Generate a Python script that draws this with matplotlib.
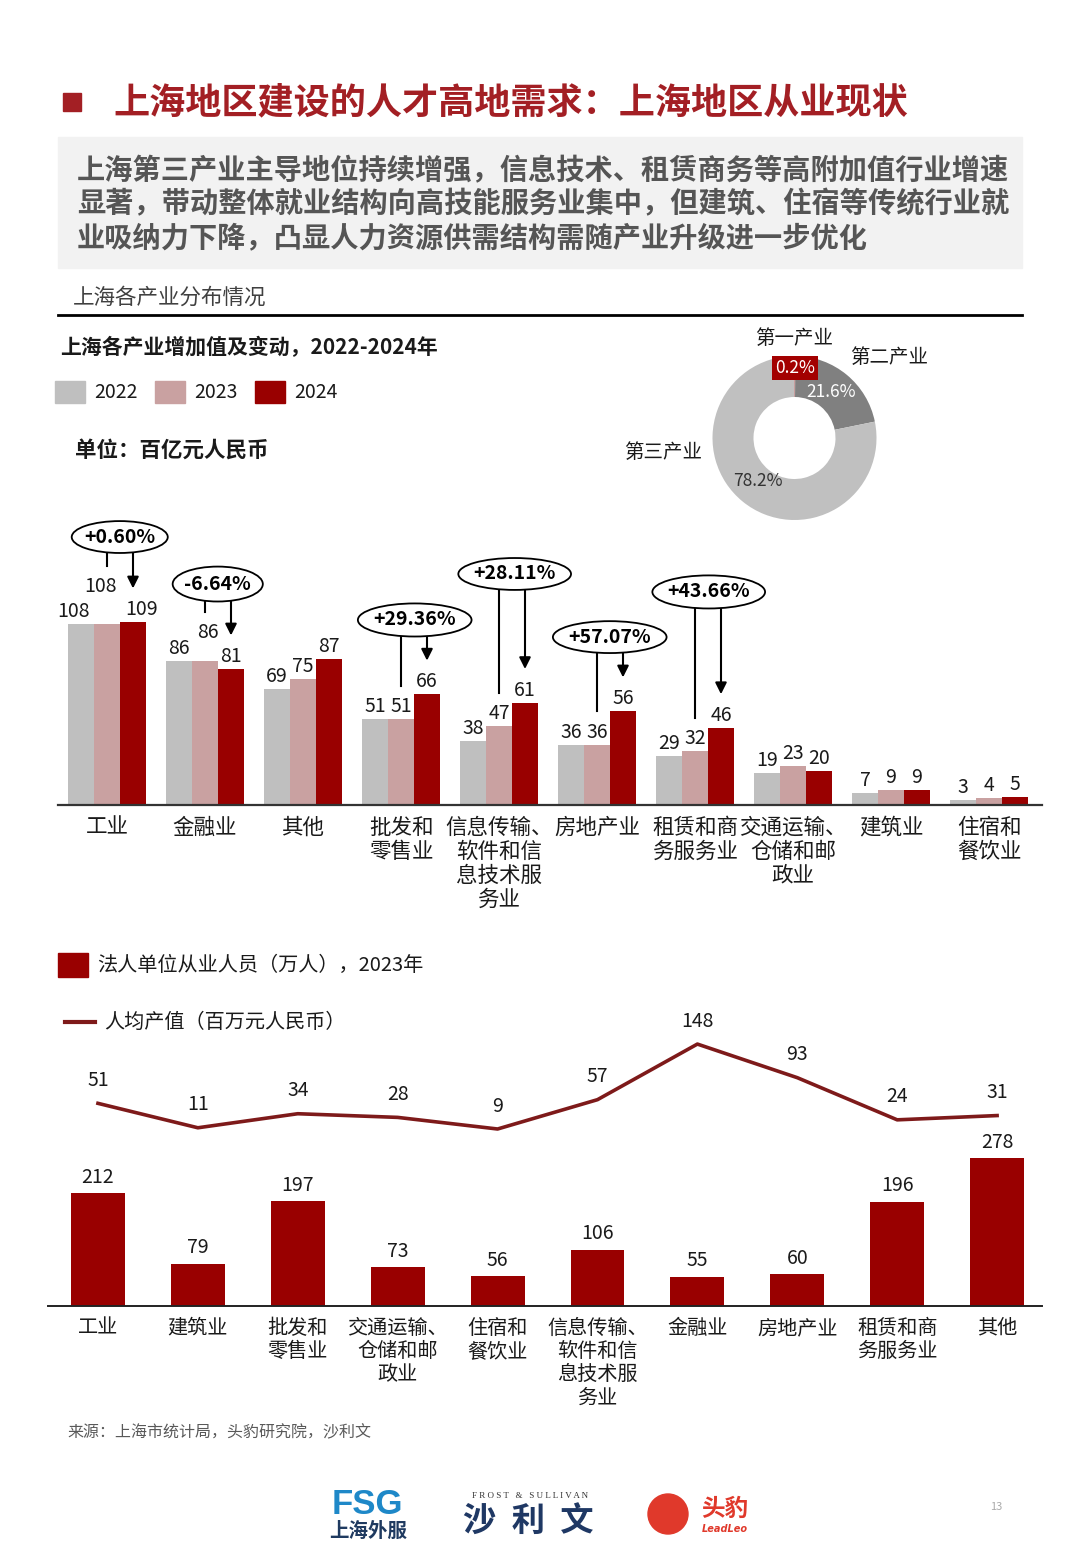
import numpy as np
import matplotlib
matplotlib.use('Agg')
import matplotlib.pyplot as plt
from matplotlib.patches import Ellipse, Rectangle, Circle
from matplotlib.lines import Line2D

plt.rcParams['font.family'] = ['Noto Sans CJK SC', 'DejaVu Sans']

# ---------------- data ----------------
cats_top = ['工业', '金融业', '其他', '批发和\n零售业', '信息传输、\n软件和信\n息技术服\n务业',
            '房地产业', '租赁和商\n务服务业', '交通运输、\n仓储和邮\n政业', '建筑业', '住宿和\n餐饮业']
years = ['2022', '2023', '2024']
v2022 = [108, 86, 69, 51, 38, 36, 29, 19, 7, 3]
v2023 = [108, 86, 75, 51, 47, 36, 32, 23, 9, 4]
v2024 = [109, 81, 87, 66, 61, 56, 46, 20, 9, 5]
pct_labels = ['+0.60%', '-6.64%', '', '+29.36%', '+28.11%', '+57.07%', '+43.66%', '', '', '']

donut_labels = ['第一产业', '第二产业', '第三产业']
donut_shares = [0.2, 21.6, 78.2]

cats_bot = ['工业', '建筑业', '批发和\n零售业', '交通运输、\n仓储和邮\n政业', '住宿和\n餐饮业',
            '信息传输、\n软件和信\n息技术服\n务业', '金融业', '房地产业', '租赁和商\n务服务业', '其他']
employees = [212, 79, 197, 73, 56, 106, 55, 60, 196, 278]
output_per_capita = [51, 11, 34, 28, 9, 57, 148, 93, 24, 31]

# ---------------- style ----------------
C_GRAY = '#BFBFBF'
C_PINK = '#C9A1A1'
C_RED = '#990000'
C_LINE = '#7E1A1A'
C_TITLE = '#A31F24'
TXT = '#1A1A1A'

W, H = 1080, 1560
fig = plt.figure(figsize=(10.8, 15.6), dpi=100)
fig.patch.set_facecolor('white')


def fax(l, t, r, b, **kw):
    return fig.add_axes([l / W, 1 - b / H, (r - l) / W, (b - t) / H], **kw)


# overlay in pixel coordinates
ov = fig.add_axes([0, 0, 1, 1], zorder=10)
ov.set_xlim(0, W)
ov.set_ylim(H, 0)
ov.axis('off')
ov.patch.set_alpha(0)

# title
ov.add_patch(Rectangle((63, 93), 18, 18, color=C_TITLE))
ov.text(113, 103, '上海地区建设的人才高地需求：上海地区从业现状', fontsize=26, fontweight='bold',
        color=C_TITLE, va='center', ha='left')
# summary box
ov.add_patch(Rectangle((58, 137), 964, 131, color='#F2F2F2', zorder=0))
summary = ['上海第三产业主导地位持续增强，信息技术、租赁商务等高附加值行业增速',
           '显著，带动整体就业结构向高技能服务业集中，但建筑、住宿等传统行业就',
           '业吸纳力下降，凸显人力资源供需结构需随产业升级进一步优化']
for k, s in enumerate(summary):
    ov.text(77, 171 + 33.5 * k, s, fontsize=20.3, fontweight='bold', color='#555555',
            va='center', ha='left')
# section header
ov.text(73, 298, '上海各产业分布情况', fontsize=15.5, color='#404040', va='center')
ov.add_line(Line2D([58, 1022], [315, 315], color='black', lw=2))

# top chart title / legend / unit
ov.text(60, 347, '上海各产业增加值及变动，2022-2024年', fontsize=15, fontweight='bold', color=TXT, va='center')
for k, (lab, col) in enumerate(zip(years, [C_GRAY, C_PINK, C_RED])):
    ov.add_patch(Rectangle((55 + 100 * k, 381), 30, 22, color=col))
    ov.text(94 + 100 * k, 392, lab, fontsize=14, color=TXT, va='center')
ov.text(75, 450, '单位：百亿元人民币', fontsize=15.5, fontweight='bold', color=TXT, va='center')

# ---------------- donut ----------------
R = 82
axd = fax(794.5 - R, 438 - R, 794.5 + R, 438 + R)
axd.pie(donut_shares, colors=['#A30000', '#808080', '#C0C0C0'], startangle=90, counterclock=False,
        radius=1, wedgeprops=dict(width=0.5, linewidth=0))
axd.set_xlim(-1, 1)
axd.set_ylim(-1, 1)
ov.text(794, 338, donut_labels[0], fontsize=14, color=TXT, ha='center', va='center')
ov.text(889, 357, donut_labels[1], fontsize=14, color=TXT, ha='center', va='center')
ov.text(663, 452, donut_labels[2], fontsize=14, color=TXT, ha='center', va='center')
ov.text(795, 368, f'{donut_shares[0]}%', fontsize=12.5, color='white', ha='center', va='center',
        bbox=dict(boxstyle='square,pad=0.15', fc='#A30000', ec='none'))
ov.text(831, 392, f'{donut_shares[1]}%', fontsize=12.5, color='white', ha='center', va='center')
ov.text(758, 481, f'{donut_shares[2]}%', fontsize=12.5, color='#333333', ha='center', va='center')

# ---------------- top grouped bar chart ----------------
PPU = 1.679  # pixels per unit
ax1 = fax(58, 505, 1042, 805)
ax1.set_ylim(0, 300 / PPU)
ax1.set_xlim(-0.5, (1042 - 107) / 98)
x = np.arange(len(cats_top))
bw = 26 / 98
ax1.bar(x - bw, v2022, bw, color=C_GRAY, zorder=2)
ax1.bar(x, v2023, bw, color=C_PINK, zorder=2)
ax1.bar(x + bw, v2024, bw, color=C_RED, zorder=2)
for s in ['top', 'right', 'left']:
    ax1.spines[s].set_visible(False)
ax1.spines['bottom'].set_color('#333333')
ax1.spines['bottom'].set_linewidth(1.6)
ax1.set_yticks([])
ax1.set_xticks(x)
ax1.set_xticklabels(cats_top, fontsize=15.5, color=TXT)
ax1.tick_params(axis='x', length=0, pad=8.5)
for lbl in ax1.get_xticklabels():
    lbl.set_linespacing(1.12)
ax1.patch.set_alpha(0)

# annotation placement (data units)
ann = {0: dict(dx=0.13, cy=159.6, w=0.98, h=19.0, line_end=142.3, lab23=126.9),
       1: dict(dx=0.13, cy=131.6, w=0.92, h=20.8, line_end=115.0, lab23=99.5),
       3: dict(dx=0.14, cy=110.2, w=1.16, h=19.7),
       4: dict(dx=0.16, cy=137.6, w=1.15, h=19.0),
       5: dict(dx=0.13, cy=100.0, w=1.16, h=19.0),
       6: dict(dx=0.14, cy=126.9, w=1.15, h=19.7)}

for i in range(len(cats_top)):
    three = v2022[i] >= 100
    a = ann.get(i, {})
    # labels
    ax1.annotate(str(v2022[i]), (x[i] - bw - (0.08 if three else 0), v2022[i]), xytext=(0, 5),
                 textcoords='offset points', ha='center', va='baseline', fontsize=14, color=TXT)
    if 'lab23' in a:
        ax1.text(x[i] - (0.07 if three else -0.03), a['lab23'], str(v2023[i]), ha='center', va='baseline',
                 fontsize=14, color=TXT)
    else:
        ax1.annotate(str(v2023[i]), (x[i], v2023[i]), xytext=(0, 5),
                     textcoords='offset points', ha='center', va='baseline', fontsize=14, color=TXT)
    ax1.annotate(str(v2024[i]), (x[i] + bw + (0.09 if three else 0), v2024[i]), xytext=(0, 5),
                 textcoords='offset points', ha='center', va='baseline', fontsize=14, color=TXT)
    if pct_labels[i]:
        cx = x[i] + a['dx']
        ax1.add_patch(Ellipse((cx, a['cy']), a['w'], a['h'], fc='white', ec='black', lw=1.3,
                              clip_on=False, zorder=5))
        ax1.text(cx, a['cy'], pct_labels[i], ha='center', va='center', fontsize=14,
                 fontweight='bold', color='black', zorder=6)
        yb = a['cy'] - a['h'] / 2
        le = a.get('line_end', v2023[i] + 20)
        ax1.plot([x[i], x[i]], [yb, le], color='black', lw=1.5, clip_on=False, zorder=4)
        ax1.annotate('', xy=(x[i] + bw, v2024[i] + 20), xytext=(x[i] + bw, yb),
                     arrowprops=dict(arrowstyle='-|>', color='black', lw=1.5, mutation_scale=17,
                                     shrinkA=0, shrinkB=0), zorder=4)

# ---------------- bottom chart ----------------
ov.add_patch(Rectangle((58, 953), 30, 24, color=C_RED))
ov.text(97, 965, '法人单位从业人员（万人），2023年', fontsize=14.5, color=TXT, va='center')
ov.add_line(Line2D([65, 95], [1022, 1022], color=C_LINE, lw=3))
ov.text(104, 1022, '人均产值（百万元人民币）', fontsize=14.5, color=TXT, va='center')

PPU2 = 0.532
ax2 = fax(48, 1030, 1042, 1306)
ax2.set_ylim(0, 276 / PPU2)
ax2.set_xlim(-0.5, (1042 - 98) / 99.9)
xb = np.arange(len(cats_bot))
ax2.bar(xb, employees, 0.54, color=C_RED, zorder=2)
for i, v in enumerate(employees):
    ax2.annotate(str(v), (xb[i], v), xytext=(0, 11.5), textcoords='offset points',
                 ha='center', va='center', fontsize=14, color=TXT)
for s in ['top', 'right', 'left']:
    ax2.spines[s].set_visible(False)
ax2.spines['bottom'].set_color('#222222')
ax2.spines['bottom'].set_linewidth(1.4)
ax2.set_yticks([])
ax2.set_xticks(xb)
ax2.set_xticklabels(cats_bot, fontsize=14.5, color=TXT)
ax2.tick_params(axis='x', length=0, pad=8.5)
for lbl in ax2.get_xticklabels():
    lbl.set_linespacing(1.14)
ax2.patch.set_alpha(0)

ax3 = ax2.twinx()
ax3.set_ylim((1134.5 - 1306) / 0.611, (1134.5 - 1030) / 0.611)
ax3.plot(xb, output_per_capita, color=C_LINE, lw=2.6, zorder=3)
for i, v in enumerate(output_per_capita):
    ax3.annotate(str(v), (xb[i], v), xytext=(0, 16.5), textcoords='offset points',
                 ha='center', va='center', fontsize=14, color=TXT)
ax3.axis('off')

# source
ov.text(67, 1433, '来源：上海市统计局，头豹研究院，沙利文', fontsize=11.5, color='#595959', va='center')

# footer logos (approximation as text)
ov.text(367, 1505, 'FSG', fontsize=25, fontweight='bold', color='#1E88C8', ha='center', va='center',
        family=['Liberation Sans', 'DejaVu Sans'])
ov.text(368, 1531, '上海外服', fontsize=14, fontweight='bold', color='#1F3A60', ha='center', va='center')
ov.text(530, 1496, 'F R O S T   &   S U L L I V A N', fontsize=6.5, color='#333333', ha='center',
        va='center', family=['Liberation Serif', 'DejaVu Serif'])
ov.text(528, 1522, '沙  利  文', fontsize=24, fontweight='bold', color='#1F3864', ha='center', va='center')
ov.add_patch(Circle((668, 1514), 20, color='#E0392B'))
ov.text(725, 1509, '头豹', fontsize=17, fontweight='bold', color='#E0392B', ha='center', va='center')
ov.text(725, 1529, 'LeadLeo', fontsize=7, fontweight='bold', style='italic', color='#E0392B',
        ha='center', va='center', family=['DejaVu Sans'])
ov.text(996, 1507, '13', fontsize=8, color='#AAAAAA', ha='center', va='center')

fig.savefig('out.png', dpi=100)
